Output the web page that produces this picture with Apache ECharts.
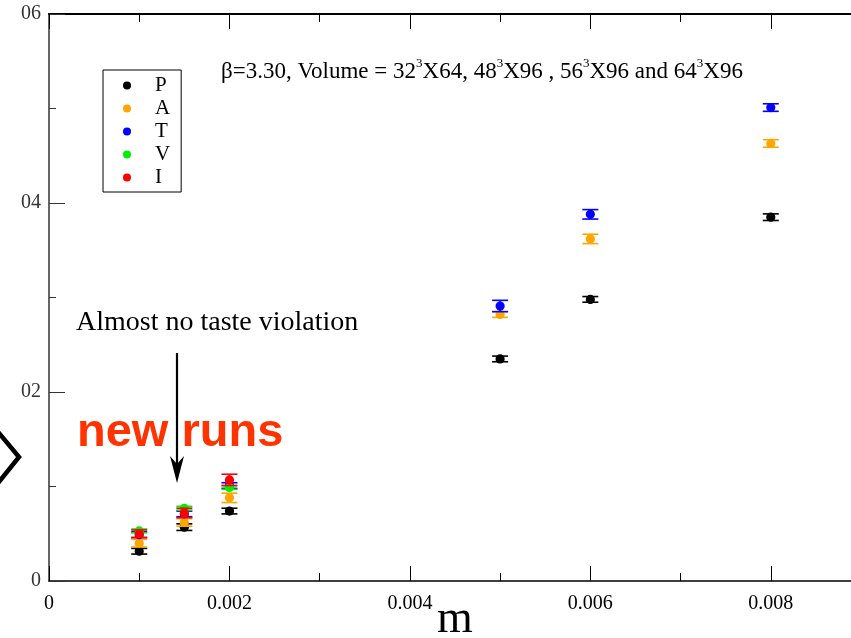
<!DOCTYPE html>
<html>
<head>
<meta charset="utf-8">
<script src="https://cdn.jsdelivr.net/npm/echarts@6/dist/echarts.min.js"></script>
<style>html,body{margin:0;padding:0;background:#fff;}#c{width:851px;height:638px;}</style>
</head>
<body>
<div id="c"></div>
<script>
// ---- data ----
const mP = [0.001, 0.0015, 0.002, 0.005, 0.006, 0.008];
const valP = [0.00315, 0.0057, 0.0074, 0.0235, 0.0298, 0.0385];
const errP = [0.0003, 0.00035, 0.0003, 0.0003, 0.0003, 0.00035];
const mA = [0.001, 0.0015, 0.002, 0.005, 0.006, 0.008];
const valA = [0.0040, 0.0062, 0.0088, 0.0282, 0.0362, 0.0463];
const errA = [0.0004, 0.0004, 0.0005, 0.0003, 0.0005, 0.0004];
const mT = [0.001, 0.0015, 0.002, 0.005, 0.006, 0.008];
const valT = [0.0049, 0.0071, 0.0101, 0.0291, 0.0388, 0.0501];
const errT = [0.0003, 0.0003, 0.0003, 0.0006, 0.0005, 0.0004];
const mV = [0.001, 0.0015, 0.002];
const valV = [0.0053, 0.0077, 0.0099];
const errV = [0.0002, 0.0002, 0.0002];
const mI = [0.001, 0.0015, 0.002];
const valI = [0.0050, 0.0072, 0.0107];
const errI = [0.0004, 0.0005, 0.0006];

const xTicks = [0, 0.002, 0.004, 0.006, 0.008];
const xTickLabels = ['0', '0.002', '0.004', '0.006', '0.008'];
const yTicks = [0, 0.02, 0.04, 0.06];
const yTickLabels = ['0', '02', '04', '06'];

const seriesNames = ['P', 'A', 'T', 'V', 'I'];
const seriesColors = ['#000000', '#ffa500', '#0000ff', '#00ee00', '#ff0000'];

// ---- build ----
function zip(m, v, e) { return m.map((x, i) => [x, v[i], e[i]]); }
const allData = [zip(mP, valP, errP), zip(mA, valA, errA), zip(mT, valT, errT), zip(mV, valV, errV), zip(mI, valI, errI)];

function labelFrom(ticks, labels) {
  return function (v) {
    for (let i = 0; i < ticks.length; i++) if (Math.abs(v - ticks[i]) < 1e-9) return labels[i];
    return '';
  };
}

function renderErr(params, api) {
  const x = api.value(0), y = api.value(1), e = api.value(2);
  const c = api.coord([x, y]);
  const hi = api.coord([x, y + e]);
  const lo = api.coord([x, y - e]);
  const color = api.visual('color');
  const st = { stroke: color, lineWidth: 1.6 };
  const w = 8;
  return {
    type: 'group',
    children: [
      { type: 'line', shape: { x1: c[0], y1: hi[1], x2: c[0], y2: lo[1] }, style: st },
      { type: 'line', shape: { x1: c[0] - w, y1: hi[1], x2: c[0] + w, y2: hi[1] }, style: st },
      { type: 'line', shape: { x1: c[0] - w, y1: lo[1], x2: c[0] + w, y2: lo[1] }, style: st },
      { type: 'circle', shape: { cx: c[0], cy: c[1], r: 4.6 }, style: { fill: color } }
    ]
  };
}

const serif = '"Liberation Serif", "DejaVu Serif", serif';

const series = seriesNames.map((n, i) => ({
  name: n,
  type: 'custom',
  renderItem: renderErr,
  itemStyle: { color: seriesColors[i] },
  encode: { x: 0, y: 1 },
  data: allData[i],
  clip: false,
  z: 2 + i
}));

const axisCommonX = {
  type: 'value', min: 0, max: 0.009, interval: 0.002,
  splitLine: { show: false },
  axisTick: { inside: true, length: 15, lineStyle: { color: '#000', width: 1 } },
  minorTick: { show: true, splitNumber: 2, length: 8, lineStyle: { color: '#000', width: 1 } },
  minorSplitLine: { show: false }
};

const option = {
  animation: false,
  backgroundColor: '#fff',
  grid: { left: 49, right: -10, top: 14, bottom: 57, containLabel: false, outerBoundsMode: 'none' },
  legend: {
    orient: 'vertical', left: 103, top: 70,
    padding: [5, 11, 4, 20],
    borderColor: '#000', borderWidth: 1, borderRadius: 0,
    itemWidth: 8, itemHeight: 8, itemGap: 2,
    icon: 'circle',
    textStyle: { fontFamily: serif, fontSize: 21, color: '#000', lineHeight: 21, padding: [0, 0, 0, 19] },
    data: seriesNames.map(n => ({ name: n, icon: 'circle' }))
  },
  xAxis: [
    Object.assign({}, axisCommonX, {
      position: 'bottom',
      axisLine: { lineStyle: { color: '#000', width: 1.5 } },
      axisLabel: { formatter: labelFrom(xTicks, xTickLabels), fontFamily: serif, fontSize: 20, color: '#000', margin: 13 },
      name: 'm', nameLocation: 'middle', nameGap: 16, nameMoveOverlap: false,
      nameTextStyle: { fontFamily: serif, fontSize: 46, color: '#000' }
    }),
    Object.assign({}, axisCommonX, {
      position: 'top',
      axisLine: { lineStyle: { color: '#000', width: 2 } },
      axisLabel: { show: false }
    })
  ],
  yAxis: [{
    type: 'value', min: 0, max: 0.06, interval: 0.02,
    splitLine: { show: false },
    axisLine: { show: true, lineStyle: { color: '#555', width: 1.8 } },
    axisTick: { inside: true, length: 16, lineStyle: { color: '#333', width: 1 } },
    minorTick: { show: true, splitNumber: 2, length: 7, lineStyle: { color: '#333', width: 1 } },
    axisLabel: { formatter: labelFrom(yTicks, yTickLabels), fontFamily: serif, fontSize: 20, color: '#333', margin: 8 }
  }],
  graphic: [
    {
      type: 'text', left: 221, top: 57, z: 10,
      style: {
        text: 'β=3.30, Volume = 32{s|3}X64, 48{s|3}X96 , 56{s|3}X96 and 64{s|3}X96',
        font: '23px ' + serif, fill: '#000', lineHeight: 30,
        rich: { s: { fontSize: 13, fontFamily: serif, verticalAlign: 'top', lineHeight: 30, fill: '#000' } }
      }
    },
    {
      type: 'text', left: 76, top: 309, z: 10,
      style: { text: 'Almost no taste violation', font: '28px ' + serif, fill: '#000' }
    },
    {
      type: 'text', left: 77, top: 410, z: 10,
      style: { text: 'new runs', font: 'bold 47px "Liberation Sans", Arial, sans-serif', fill: '#ff3300' }
    },
    {
      type: 'line', z: 11,
      shape: { x1: 177, y1: 353, x2: 177, y2: 470 },
      style: { stroke: '#000', lineWidth: 2.2 }
    },
    {
      type: 'polygon', z: 11,
      shape: { points: [[170, 456], [177, 483], [184, 456], [177, 464]] },
      style: { fill: '#000' }
    },
    {
      type: 'polyline', z: 11,
      shape: { points: [[-6, 427], [19, 457], [-6, 488]] },
      style: { stroke: '#000', lineWidth: 4.5, fill: null }
    }
  ],
  series: series
};

const chart = echarts.init(document.getElementById('c'), null, { renderer: 'canvas' });
chart.setOption(option);
</script>
</body>
</html>
